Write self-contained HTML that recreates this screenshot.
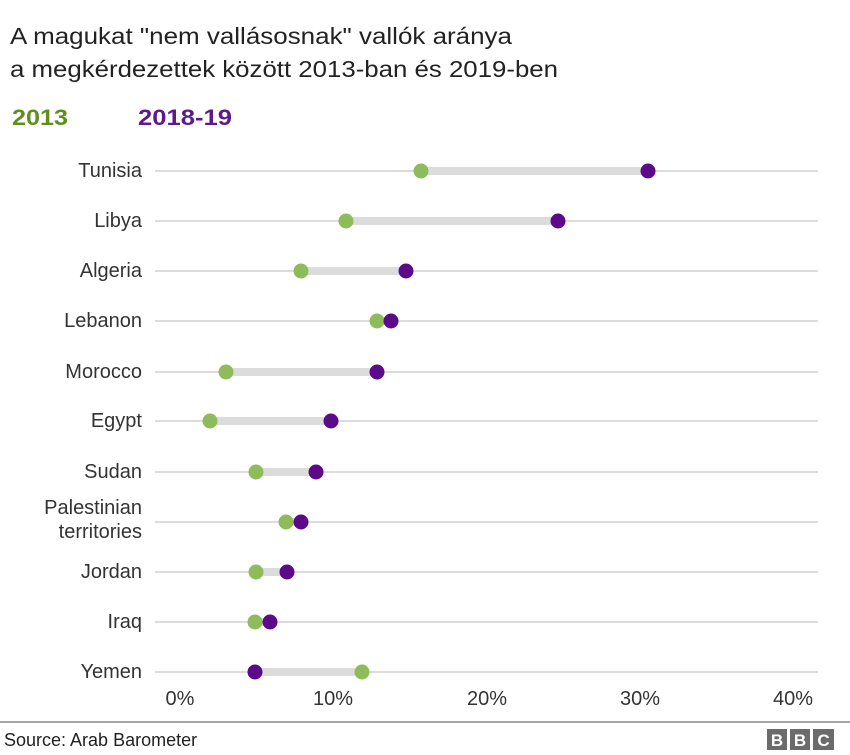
<!DOCTYPE html>
<html><head><meta charset="utf-8"><style>html,body{margin:0;padding:0;background:#fff}svg{display:block}</style></head>
<body>
<svg width="850" height="755" viewBox="0 0 850 755" xmlns="http://www.w3.org/2000/svg" font-family="Liberation Sans, sans-serif">
<rect width="850" height="755" fill="#fff"/>
<text x="10" y="44" font-size="23" fill="#222" textLength="502" lengthAdjust="spacingAndGlyphs">A magukat "nem vallásosnak" vallók aránya</text>
<text x="10" y="77" font-size="23" fill="#222" textLength="548" lengthAdjust="spacingAndGlyphs">a megkérdezettek között 2013-ban és 2019-ben</text>
<text x="12" y="125" font-size="22" font-weight="bold" fill="#5f8f1f" textLength="56" lengthAdjust="spacingAndGlyphs">2013</text>
<text x="138" y="125" font-size="22" font-weight="bold" fill="#5c1a8a" textLength="94" lengthAdjust="spacingAndGlyphs">2018-19</text>
<g id="rows" font-size="20" fill="#333" text-anchor="end">
</g>
<line x1="0" y1="722" x2="850" y2="722" stroke="#888" stroke-width="1.5"/>
<text x="4" y="746" font-size="18" fill="#222">Source: Arab Barometer</text>
<rect x="767" y="729" width="20" height="21" fill="#6b6b6b"/>
<rect x="790" y="729" width="20" height="21" fill="#6b6b6b"/>
<rect x="813" y="729" width="21" height="21" fill="#6b6b6b"/>
<text x="777" y="746" font-size="17" font-weight="bold" fill="#fff" text-anchor="middle">B</text>
<text x="800" y="746" font-size="17" font-weight="bold" fill="#fff" text-anchor="middle">B</text>
<text x="823.5" y="746" font-size="17" font-weight="bold" fill="#fff" text-anchor="middle">C</text>
<g font-size="20" fill="#333" text-anchor="middle">
<text x="180" y="705">0%</text><text x="333" y="705">10%</text><text x="487" y="705">20%</text><text x="640" y="705">30%</text><text x="793" y="705">40%</text>
</g>
<!-- rows -->
<g stroke="#d0d0d0" stroke-width="1.5">
<line x1="155" y1="171" x2="818" y2="171"/><line x1="155" y1="221" x2="818" y2="221"/><line x1="155" y1="271" x2="818" y2="271"/><line x1="155" y1="321" x2="818" y2="321"/><line x1="155" y1="372" x2="818" y2="372"/><line x1="155" y1="421" x2="818" y2="421"/><line x1="155" y1="472" x2="818" y2="472"/><line x1="155" y1="522" x2="818" y2="522"/><line x1="155" y1="572" x2="818" y2="572"/><line x1="155" y1="622" x2="818" y2="622"/><line x1="155" y1="672" x2="818" y2="672"/>
</g>
<g stroke="#dcdcdc" stroke-width="8">
<line x1="421" y1="171" x2="648" y2="171"/><line x1="346" y1="221" x2="558" y2="221"/><line x1="301" y1="271" x2="406" y2="271"/><line x1="377" y1="321" x2="391" y2="321"/><line x1="226" y1="372" x2="377" y2="372"/><line x1="210" y1="421" x2="331" y2="421"/><line x1="256" y1="472" x2="316" y2="472"/><line x1="286" y1="522" x2="301" y2="522"/><line x1="256" y1="572" x2="287" y2="572"/><line x1="255" y1="622" x2="270" y2="622"/><line x1="255" y1="672" x2="362" y2="672"/>
</g>
<g fill="#8fbc5a">
<circle cx="421" cy="171" r="7.5"/><circle cx="346" cy="221" r="7.5"/><circle cx="301" cy="271" r="7.5"/><circle cx="377" cy="321" r="7.5"/><circle cx="226" cy="372" r="7.5"/><circle cx="210" cy="421" r="7.5"/><circle cx="256" cy="472" r="7.5"/><circle cx="286" cy="522" r="7.5"/><circle cx="256" cy="572" r="7.5"/><circle cx="255" cy="622" r="7.5"/><circle cx="362" cy="672" r="7.5"/>
</g>
<g fill="#5c0a8a">
<circle cx="648" cy="171" r="7.5"/><circle cx="558" cy="221" r="7.5"/><circle cx="406" cy="271" r="7.5"/><circle cx="391" cy="321" r="7.5"/><circle cx="377" cy="372" r="7.5"/><circle cx="331" cy="421" r="7.5"/><circle cx="316" cy="472" r="7.5"/><circle cx="301" cy="522" r="7.5"/><circle cx="287" cy="572" r="7.5"/><circle cx="270" cy="622" r="7.5"/><circle cx="255" cy="672" r="7.5"/>
</g>
<g font-size="20" fill="#333" text-anchor="end">
<text x="142" y="177">Tunisia</text><text x="142" y="227">Libya</text><text x="142" y="277">Algeria</text><text x="142" y="327">Lebanon</text><text x="142" y="378">Morocco</text><text x="142" y="427">Egypt</text><text x="142" y="478">Sudan</text><text x="142" y="514">Palestinian</text><text x="142" y="538">territories</text><text x="142" y="578">Jordan</text><text x="142" y="628">Iraq</text><text x="142" y="678">Yemen</text>
</g>
</svg>
</body></html>
